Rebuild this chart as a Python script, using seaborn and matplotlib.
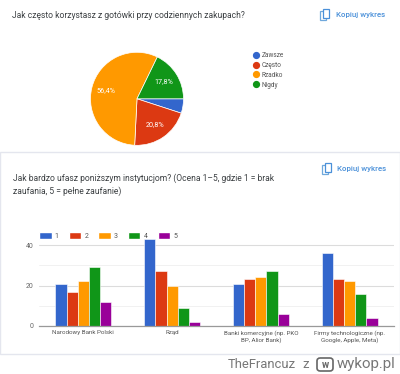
#!/usr/bin/env python
import numpy as np
import pandas as pd
import seaborn as sns
import matplotlib.pyplot as plt
from matplotlib.lines import Line2D
from matplotlib.patches import FancyBboxPatch, Rectangle

# pie data
pie_labels = ["Zawsze", "Często", "Rzadko", "Nigdy"]
pie_values = [5.0, 20.8, 56.4, 17.8]
pie_texts = ["", "20,8%", "56,4%", "17,8%"]

# bar data
institutions = [
    "Narodowy Bank Polski",
    "Rząd",
    "Banki komercyjne (np. PKO\nBP, Alior Bank)",
    "Firmy technologiczne (np.\nGoogle, Apple, Meta)",
]
ratings = ["1", "2", "3", "4", "5"]
rating_1 = [21, 43, 21, 36]
rating_2 = [17, 27, 23, 23]
rating_3 = [22, 20, 24, 22]
rating_4 = [29, 9, 27, 16]
rating_5 = [12, 2, 6, 4]

pie_colors = ["#3366cc", "#dc3912", "#ff9900", "#109618"]
bar_colors = ["#3366cc", "#dc3912", "#ff9900", "#109618", "#990099"]

W, H = 400, 374

sns.set_theme(style="white")
plt.rcParams["font.family"] = ["Roboto", "DejaVu Sans"]


def px_axes(fig, left, top, right, bottom):
    return fig.add_axes([left / W, 1 - bottom / H, (right - left) / W, (bottom - top) / H])


fig = plt.figure(figsize=(W / 100, H / 100), dpi=100)

# card outline of the second chart
fig.add_artist(Rectangle((0, 1 - 354 / H), 1, 202 / H, transform=fig.transFigure,
                         facecolor="white", edgecolor="#e4e6ee", lw=1.0, zorder=-1))

# top chart
fig.text(12 / W, 1 - 16 / H, "Jak często korzystasz z gotówki przy codziennych zakupach?",
         fontsize=6.15, color="#3c4043", va="center")
fig.text(336 / W, 1 - 14.5 / H, "Kopiuj wykres", fontsize=5.7, color="#4a90d9",
         va="center", fontweight="medium")

ax_pie = px_axes(fig, 90.5, 52.3, 183.5, 145.3)
wedges, _ = ax_pie.pie(pie_values, colors=pie_colors, startangle=0, counterclock=False,
                       radius=1, wedgeprops={"edgecolor": "white", "linewidth": 0.5})
ax_pie.set_xlim(-1, 1)
ax_pie.set_ylim(-1, 1)
ax_pie.set_aspect("equal")
for wedge, label in zip(wedges, pie_texts):
    if label:
        ang = np.deg2rad((wedge.theta1 + wedge.theta2) / 2)
        ax_pie.text(0.68 * np.cos(ang), 0.68 * np.sin(ang), label, color="white",
                    fontsize=5.2, ha="center", va="center")

handles = [Line2D([], [], marker="o", ls="", ms=4.2, color=c) for c in pie_colors]
fig.legend(handles, pie_labels, loc="upper left", bbox_to_anchor=(251 / W, 1 - 52 / H),
           frameon=False, fontsize=4.7, labelcolor="#555555", handlelength=1.6, handletextpad=0.05,
           labelspacing=0.44, borderpad=0, borderaxespad=0)

# bottom chart
fig.text(13 / W, 1 - 178.5 / H, "Jak bardzo ufasz poniższym instytucjom? (Ocena 1–5, gdzie 1 = brak",
         fontsize=6.17, color="#3c4043", va="center")
fig.text(13 / W, 1 - 191 / H, "zaufania, 5 = pełne zaufanie)",
         fontsize=6.17, color="#3c4043", va="center")
fig.text(337 / W, 1 - 169 / H, "Kopiuj wykres", fontsize=5.7, color="#4a90d9",
         va="center", fontweight="medium")

df = pd.DataFrame({"institution": institutions, "1": rating_1, "2": rating_2,
                   "3": rating_3, "4": rating_4, "5": rating_5})
df = df.melt(id_vars="institution", var_name="rating", value_name="count")

ax = px_axes(fig, 39, 239, 394, 326)
sns.barplot(data=df, x="institution", y="count", hue="rating", hue_order=ratings,
            palette=bar_colors, saturation=1, width=0.63, edgecolor="white", linewidth=0.4,
            ax=ax)
ax.set_ylim(0, 43)
ax.set_xlim(-0.5, 3.5)
ax.set_xlabel("")
ax.set_ylabel("")
ax.set_yticks([0, 20, 40])
ax.set_yticks([10, 30], minor=True)
ax.grid(True, axis="y", which="major", color="#dcdcdc", lw=0.8)
ax.grid(True, axis="y", which="minor", color="#efefef", lw=0.6)
ax.set_axisbelow(True)
for side in ["top", "left", "right"]:
    ax.spines[side].set_visible(False)
ax.spines["bottom"].set_color("#999999")
ax.spines["bottom"].set_linewidth(0.9)
ax.tick_params(axis="x", length=0, labelsize=4.5, labelcolor="#555555", pad=3)
ax.tick_params(axis="y", which="both", length=0, labelsize=5, labelcolor="#666666", pad=3.7)
ax.legend_.remove()

bar_handles = [Rectangle((0, 0), 1, 1, facecolor=c) for c in bar_colors]
fig.legend(bar_handles, ratings, loc="upper left", bbox_to_anchor=(39 / W, 1 - 232 / H), ncol=5,
           frameon=False, fontsize=5, labelcolor="#555555", handlelength=1.8, handleheight=1.25,
           handletextpad=0.45, columnspacing=1.45, borderpad=0, borderaxespad=0)

# copy icons
for x0, y0 in [(320, 10), (322, 164)]:
    fig.add_artist(Rectangle((x0 / W, 1 - (y0 + 10) / H), 6 / W, 9 / H, transform=fig.transFigure,
                             facecolor="white", edgecolor="#6fa8dc", lw=0.9))
    fig.add_artist(Rectangle(((x0 + 3) / W, 1 - (y0 + 8) / H), 6 / W, 9 / H, transform=fig.transFigure,
                             facecolor="white", edgecolor="#4a90d9", lw=0.9))

# watermark
fig.text(228 / W, 1 - 364.5 / H, "TheFrancuz", fontsize=9.4, color="#777777", va="center")
fig.text(302 / W, 1 - 364.5 / H, "z", fontsize=9.4, color="#777777", va="center")
fig.add_artist(FancyBboxPatch((317 / W, 1 - 371 / H), 16 / W, 13 / H, transform=fig.transFigure,
                              boxstyle="round,pad=0,rounding_size=0.008", facecolor="white",
                              edgecolor="#666666", lw=1.2))
fig.text(325 / W, 1 - 364.5 / H, "w", fontsize=7, color="#666666", va="center", ha="center",
         fontweight="bold")
fig.text(336.5 / W, 1 - 364 / H, "wykop.pl", fontsize=10.8, color="#777777", va="center")

fig.savefig("out.png", dpi=100, facecolor="white")
